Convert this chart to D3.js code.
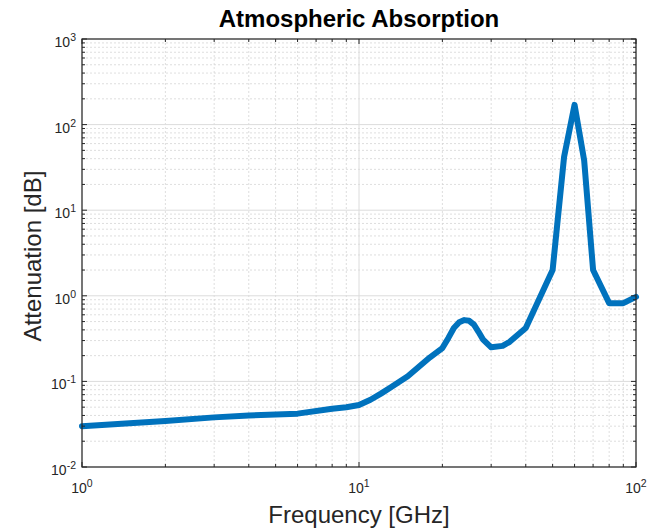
<!DOCTYPE html>
<html>
<head>
<meta charset="utf-8">
<script src="https://cdn.jsdelivr.net/npm/d3@7"></script>
<style>
  body { margin: 0; background: #fff; }
  text { font-family: "Liberation Sans", Arial, Helvetica, sans-serif; fill: #262626; }
</style>
</head>
<body>
<svg width="648" height="530"></svg>
<script>
// Data
const freq = [1, 2, 3, 4, 6, 8, 9, 10, 11, 12, 13, 15, 18, 20, 21, 22, 23, 24, 25, 26, 27, 28, 30, 33, 35, 40, 50, 55, 60, 65, 70, 80, 90, 100]
const atten = [0.030, 0.0345, 0.038, 0.040, 0.042, 0.048, 0.050, 0.053, 0.061, 0.072, 0.085, 0.115, 0.19, 0.245, 0.32, 0.42, 0.49, 0.52, 0.51, 0.46, 0.38, 0.31, 0.25, 0.26, 0.29, 0.42, 2.0, 42, 170, 38, 2.0, 0.82, 0.82, 0.97]
const xTicks = [1, 10, 100]
const yTicks = [0.01, 0.1, 1, 10, 100, 1000]

let svg = d3.select('svg')
const margin = { left: 82, right: 12, top: 39, bottom: 63 }
const width = +svg.attr('width')
const height = +svg.attr('height')
const x0 = margin.left, x1 = width - margin.right
const y0 = margin.top, y1 = height - margin.bottom

const x = d3.scaleLog().domain([1, 100]).range([x0, x1])
const y = d3.scaleLog().domain([0.01, 1000]).range([y1, y0])

// minor values per decade
const minor = (lo, hi) => {
  let out = []
  for (let e = Math.log10(lo); e < Math.log10(hi); e++)
    for (let k = 2; k <= 9; k++) out.push(k * Math.pow(10, e))
  return out
}
const xMinor = minor(1, 100)
const yMinor = minor(0.01, 1000)

let grid = svg.append('g')
// minor grid, dotted
grid.selectAll('.xm').data(xMinor).enter().append('line')
  .attr('x1', d => x(d)).attr('x2', d => x(d)).attr('y1', y0).attr('y2', y1)
  .attr('stroke', '#d6d6d6').attr('stroke-width', 0.8).attr('stroke-dasharray', '2,2')
grid.selectAll('.ym').data(yMinor).enter().append('line')
  .attr('y1', d => y(d)).attr('y2', d => y(d)).attr('x1', x0).attr('x2', x1)
  .attr('stroke', '#d6d6d6').attr('stroke-width', 0.8).attr('stroke-dasharray', '2,2')
// major grid
grid.selectAll('.xM').data(xTicks).enter().append('line')
  .attr('x1', d => x(d)).attr('x2', d => x(d)).attr('y1', y0).attr('y2', y1)
  .attr('stroke', '#dcdcdc').attr('stroke-width', 1)
grid.selectAll('.yM').data(yTicks).enter().append('line')
  .attr('y1', d => y(d)).attr('y2', d => y(d)).attr('x1', x0).attr('x2', x1)
  .attr('stroke', '#dcdcdc').attr('stroke-width', 1)

// data line
const line = d3.line().x((d, i) => x(freq[i])).y(d => y(d))
svg.append('path')
  .datum(atten)
  .attr('d', line)
  .attr('fill', 'none')
  .attr('stroke', '#0072BD')
  .attr('stroke-width', 6)
  .attr('stroke-linejoin', 'round')
  .attr('stroke-linecap', 'round')

// ticks inward on all four sides
let ticks = svg.append('g').attr('stroke', '#262626').attr('stroke-width', 1)
const tickLen = d => (xTicks.includes(d) || yTicks.includes(d)) ? 5 : 3
xTicks.concat(xMinor).forEach(d => {
  ticks.append('line').attr('x1', x(d)).attr('x2', x(d)).attr('y1', y1).attr('y2', y1 - tickLen(d))
  ticks.append('line').attr('x1', x(d)).attr('x2', x(d)).attr('y1', y0).attr('y2', y0 + tickLen(d))
})
yTicks.concat(yMinor).forEach(d => {
  ticks.append('line').attr('y1', y(d)).attr('y2', y(d)).attr('x1', x0).attr('x2', x0 + tickLen(d))
  ticks.append('line').attr('y1', y(d)).attr('y2', y(d)).attr('x1', x1).attr('x2', x1 - tickLen(d))
})

// axes box
svg.append('rect')
  .attr('x', x0).attr('y', y0).attr('width', x1 - x0).attr('height', y1 - y0)
  .attr('fill', 'none').attr('stroke', '#262626').attr('stroke-width', 1.2)

// tick labels with superscript exponents
const expLabel = (sel, d) => {
  const e = Math.round(Math.log10(d))
  sel.append('tspan').text('10')
  sel.append('tspan').attr('dy', -6).attr('font-size', 10.5).text(e)
}
xTicks.forEach(d => {
  let t = svg.append('text').attr('x', x(d)).attr('y', y1 + 26)
    .attr('text-anchor', 'middle').attr('font-size', 14)
  expLabel(t, d)
})
yTicks.forEach(d => {
  let t = svg.append('text').attr('x', x0 - 6).attr('y', y(d) + 8)
    .attr('text-anchor', 'end').attr('font-size', 14)
  expLabel(t, d)
})

// title and axis labels
svg.append('text')
  .attr('x', (x0 + x1) / 2).attr('y', 27)
  .attr('text-anchor', 'middle')
  .attr('font-size', 24).attr('font-weight', 'bold').style('fill', '#000')
  .text('Atmospheric Absorption')
svg.append('text')
  .attr('x', (x0 + x1) / 2).attr('y', 523)
  .attr('text-anchor', 'middle').attr('font-size', 24)
  .text('Frequency [GHz]')
svg.append('text')
  .attr('transform', `translate(41, ${(y0 + y1) / 2 + 3}) rotate(-90)`)
  .attr('text-anchor', 'middle').attr('font-size', 24)
  .text('Attenuation [dB]')
</script>
</body>
</html>
